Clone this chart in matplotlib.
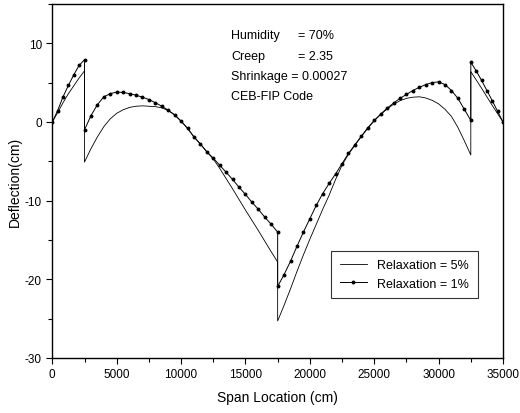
"""Mid-span deflection of a three-span girder for two relaxation ratios."""

import matplotlib

matplotlib.use("Agg")
import matplotlib.pyplot as plt  # noqa: E402
from matplotlib.ticker import MultipleLocator  # noqa: E402

# span locations (cm): end span, main spans, end span
x_end_left = [0, 417, 833, 1250, 1667, 2083, 2500]
x_main_1 = [2500, 3000, 3500, 4000, 4500, 5000, 5500, 6000, 6500, 7000,
            7500, 8000, 8500, 9000, 9500, 10000, 10500, 11000, 11500, 12000,
            12500, 13000, 13500, 14000, 14500, 15000, 15500, 16000, 16500,
            17000, 17500]
x_main_2 = [17500, 18000, 18500, 19000, 19500, 20000, 20500, 21000, 21500,
            22000, 22500, 23000, 23500, 24000, 24500, 25000, 25500, 26000,
            26500, 27000, 27500, 28000, 28500, 29000, 29500, 30000, 30500,
            31000, 31500, 32000, 32500]
x_end_right = [32500, 32917, 33333, 33750, 34167, 34583, 35000]

# deflection (cm), relaxation = 5%
defl_5_left = [0, 1.2, 2.45, 3.6, 4.6, 5.6, 6.5]
defl_5_main_1 = [-5.1, -3.4, -1.9, -0.6, 0.4, 1.1, 1.55, 1.85, 2.0, 2.05,
                 2.0, 1.95, 1.8, 1.45, 0.9, 0.1, -0.8, -1.9, -2.8, -3.8,
                 -4.7, -5.9, -7.2, -8.5, -9.85, -11.2, -12.5, -13.8, -15.15,
                 -16.5, -17.8]
defl_5_main_2 = [-25.3, -23.3, -21.2, -19.0, -16.9, -14.9, -13.0, -11.1, -9.3,
                 -7.3, -5.5, -4.1, -2.95, -1.85, -0.8, 0.15, 0.95, 1.65, 2.25,
                 2.7, 3.0, 3.15, 3.2, 3.05, 2.75, 2.3, 1.6, 0.7, -0.7, -2.4,
                 -4.2]
defl_5_right = [6.4, 5.35, 4.3, 3.2, 2.1, 1.05, 0]

# deflection (cm), relaxation = 1%
defl_1_left = [0, 1.45, 3.2, 4.65, 6.0, 7.2, 7.9]
defl_1_main_1 = [-1.0, 0.8, 2.2, 3.2, 3.6, 3.8, 3.75, 3.6, 3.4, 3.15,
                 2.85, 2.45, 2.0, 1.5, 0.9, 0.1, -0.8, -1.9, -2.8, -3.8,
                 -4.6, -5.5, -6.4, -7.3, -8.3, -9.2, -10.2, -11.1, -12.1,
                 -13.0, -14.0]
defl_1_main_2 = [-20.9, -19.4, -17.7, -15.8, -14.0, -12.3, -10.6, -9.1, -7.8,
                 -6.6, -5.3, -4.0, -2.9, -1.8, -0.75, 0.2, 1.0, 1.75, 2.4,
                 3.0, 3.5, 4.0, 4.4, 4.75, 5.0, 5.1, 4.75, 4.0, 3.0, 1.6, 0.2]
defl_1_right = [7.6, 6.5, 5.3, 4.0, 2.7, 1.35, 0]

x_all = x_end_left + x_main_1 + x_main_2 + x_end_right
defl_5 = defl_5_left + defl_5_main_1 + defl_5_main_2 + defl_5_right
defl_1 = defl_1_left + defl_1_main_1 + defl_1_main_2 + defl_1_right

params = [("Humidity", "= 70%"), ("Creep", "= 2.35"),
          ("Shrinkage = 0.00027", ""), ("CEB-FIP Code", "")]

plt.rcParams["font.family"] = ["Liberation Sans", "DejaVu Sans"]
plt.rcParams["axes.unicode_minus"] = False

fig = plt.figure(figsize=(5.2, 4.14), dpi=100)
ax = fig.add_axes([0.1006, 0.1329, 0.8667, 0.8551])

ax.plot(x_all, defl_5, color="black", lw=0.6, label="Relaxation = 5%")
ax.plot(x_all, defl_1, color="black", lw=0.7, marker="o", ms=1.8,
        label="Relaxation = 1%")

ax.set_xlim(0, 35000)
ax.set_ylim(-30, 15)
ax.xaxis.set_major_locator(MultipleLocator(5000))
ax.xaxis.set_minor_locator(MultipleLocator(2500))
ax.yaxis.set_minor_locator(MultipleLocator(5))
ax.set_yticks([-30, -20, -10, 0, 10])
ax.tick_params(which="both", direction="out", width=0.8, labelsize=8.5)
ax.tick_params(which="major", length=4)
ax.tick_params(which="minor", length=3)
for sp in ax.spines.values():
    sp.set_linewidth(1.0)

ax.set_xlabel("Span Location (cm)", fontsize=10, labelpad=7)
ax.set_ylabel("Deflection(cm)", fontsize=10, labelpad=2)

for i, (name, val) in enumerate(params):
    y = 11.0 - 2.56 * i
    ax.text(13880, y, name, fontsize=9, va="center")
    if val:
        ax.text(19080, y, val, fontsize=9, va="center")

leg = ax.legend(loc="lower right", bbox_to_anchor=(0.958, 0.151),
                fontsize=9, frameon=True, fancybox=False, edgecolor="black",
                handlelength=2.2, borderpad=0.7, labelspacing=0.5)
leg.get_frame().set_linewidth(0.8)

fig.savefig("out.png", dpi=100)
